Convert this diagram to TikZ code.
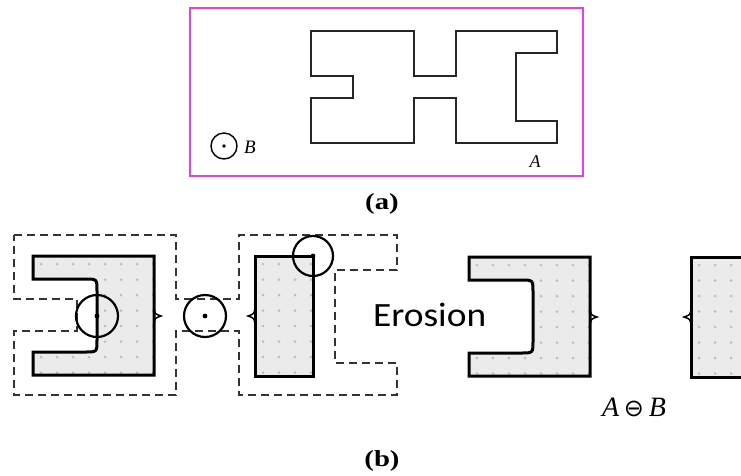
\documentclass[tikz,border=0pt]{standalone}
\usepackage{fontspec}
\setmainfont{Liberation Serif}
\newfontfamily\erofont{Carlito}
\newfontfamily\timesfont{Liberation Serif}
\newfontfamily\symbfont{DejaVu Sans}
\definecolor{boxmag}{RGB}{235,60,235}
\begin{document}
\begin{tikzpicture}[x=1pt,y=-1pt,
  thinshape/.style={draw=black!85,line width=1.4pt},
  dashA/.style={draw=black!80,line width=2.6pt,dash pattern=on 8pt off 5pt},
  erodefill/.style={fill=gray!16},
  erodeline/.style={draw=black,line width=3pt,line join=miter},
  probe/.style={circle,draw=black,line width=2.2pt,inner sep=0pt},
  smallprobe/.style={circle,draw=black,line width=1.4pt,inner sep=0pt,minimum size=26pt},
  bracestyle/.style={draw=black,line width=1.5pt},
  lbl/.style={inner sep=0pt},
  texdot/.style={fill=gray!50}]
\useasboundingbox (0,0) rectangle (741,475);
\begin{scope}
\clip (0,0) rectangle (741,475);

% ---------------- (a) ----------------
\draw[boxmag,line width=2.2pt] (190,8) rectangle (583,176);
\draw[thinshape] (311,31) -- (414,31) -- (414,76) -- (456,76) -- (456,31) -- (557,31)
  -- (557,53) -- (516,53) -- (516,121) -- (557,121) -- (557,143) -- (456,143)
  -- (456,98) -- (414,98) -- (414,143) -- (311,143) -- (311,98) -- (353,98)
  -- (353,76) -- (311,76) -- cycle;
\node[smallprobe] (Bc) at (224,146) {};
\fill (Bc.center) circle (1.8pt);
\node[lbl,anchor=west] (Blabel) at (244,147) {\timesfont\fontsize{19}{19}\selectfont\itshape B};
\node[lbl,anchor=center] (Alabel) at (535,162) {\timesfont\fontsize{18}{18}\selectfont\itshape A};
\node[lbl] (capa) at (382,204) {\timesfont\fontsize{23}{23}\selectfont\bfseries\scalebox{1.25}[1]{(a)}};

% ---------------- (b) ----------------
% original set A (dashed)
\draw[dashA] (14,235) -- (176,235) -- (176,299) -- (239,299) -- (239,235) -- (397,235)
  -- (397,270) -- (335,270) -- (335,363) -- (397,363) -- (397,395) -- (239,395)
  -- (239,331) -- (176,331) -- (176,395) -- (14,395) -- (14,331) -- (77,331)
  -- (77,299) -- (14,299) -- cycle;

\def\leftshape{(33,256) -- (154,256) -- (154,375) -- (33,375) -- (33,352) -- (85,352)
  .. controls (97,352) .. (97,340) -- (97,291) .. controls (97,279) .. (85,279)
  -- (33,279) -- cycle}

% eroded left part
\fill[erodefill] \leftshape;
\begin{scope}
\clip \leftshape;
\foreach \i in {0,...,7} \foreach \j in {0,...,7}
  \fill[texdot] ({41+\i*16},{264+\j*15.5}) circle (1.5pt);
\end{scope}
\draw[erodeline] \leftshape;
\draw[bracestyle] (154,308) .. controls (155,314) .. (161,316) .. controls (155,318) .. (154,324);

% eroded right part
\fill[erodefill] (255,256) rectangle (313,376);
\begin{scope}
\clip (255,256) rectangle (313,376);
\foreach \i in {0,...,3} \foreach \j in {0,...,7}
  \fill[texdot] ({263+\i*16},{264+\j*15.5}) circle (1.5pt);
\end{scope}
\draw[erodeline] (255,256) rectangle (313,376);
\draw[bracestyle] (255,308) .. controls (254,314) .. (248,316) .. controls (254,318) .. (255,324);

% probes
\node[probe,minimum size=42pt] (P1) at (97,316) {};
\fill (P1.center) circle (2.4pt);
\node[probe,minimum size=42pt] (P2) at (205,316) {};
\fill (P2.center) circle (2.4pt);
\node[probe,minimum size=40pt] (P3) at (313,256) {};
\fill (P3.center) circle (2.4pt);

\node[lbl,anchor=base west] (ero) at (373,326) {\erofont\fontsize{34}{34}\selectfont\scalebox{1.1}[1]{Erosion}};

% result
\begin{scope}[shift={(436,1)}]
\fill[erodefill] \leftshape;
\begin{scope}
\clip \leftshape;
\foreach \i in {0,...,7} \foreach \j in {0,...,7}
  \fill[texdot] ({41+\i*16},{264+\j*15.5}) circle (1.5pt);
\end{scope}
\draw[erodeline] \leftshape;
\draw[bracestyle] (154,308) .. controls (155,314) .. (161,316) .. controls (155,318) .. (154,324);
\end{scope}

\fill[erodefill] (691,257) rectangle (760,377);
\begin{scope}
\clip (691,257) rectangle (760,377);
\foreach \i in {0,...,4} \foreach \j in {0,...,7}
  \fill[texdot] ({699+\i*16},{265+\j*15.5}) circle (1.5pt);
\end{scope}
\draw[erodeline] (760,257) -- (691,257) -- (691,377) -- (760,377);
\draw[bracestyle] (691,309) .. controls (690,315) .. (684,317) .. controls (690,319) .. (691,325);

\node[lbl,anchor=base west] (AB) at (602,416) {\timesfont\fontsize{28}{28}\selectfont\itshape A\,{\symbfont\fontsize{24}{24}\selectfont ⊖}\,B};

\node[lbl] (capb) at (382,461) {\timesfont\fontsize{23}{23}\selectfont\bfseries\scalebox{1.25}[1]{(b)}};
\end{scope}
\end{tikzpicture}
\end{document}
